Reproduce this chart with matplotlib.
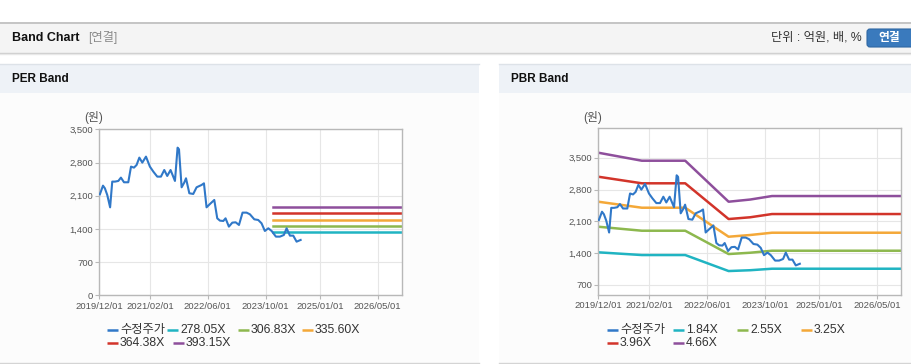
import numpy as np
import matplotlib
matplotlib.use('Agg')
import matplotlib.pyplot as plt
import matplotlib.dates as mdates
from matplotlib.patches import Rectangle, FancyBboxPatch

plt.rcParams['font.family'] = ['Liberation Sans', 'Noto Sans CJK KR']

# adjusted share price (수정주가)
price_dates = ['2019-12-06', '2020-01-01', '2020-01-17', '2020-02-06', '2020-03-01', '2020-03-19',
               '2020-04-11', '2020-05-09', '2020-05-31', '2020-06-26', '2020-08-01', '2020-08-24',
               '2020-09-18', '2020-10-10', '2020-11-02', '2020-11-27', '2020-12-28', '2021-01-30',
               '2021-02-28', '2021-04-02', '2021-05-03', '2021-05-31', '2021-06-25', '2021-07-23',
               '2021-08-29', '2021-09-20', '2021-10-02', '2021-10-24', '2021-11-15', '2021-11-30',
               '2021-12-28', '2022-01-30', '2022-02-27', '2022-04-10', '2022-04-30', '2022-05-22',
               '2022-06-20', '2022-07-26', '2022-08-20', '2022-09-12', '2022-10-10', '2022-10-29',
               '2022-11-26', '2022-12-25', '2023-01-22', '2023-02-19', '2023-03-21', '2023-04-24',
               '2023-05-22', '2023-06-28', '2023-07-31', '2023-08-28', '2023-09-25', '2023-10-24',
               '2023-11-21', '2023-12-27', '2024-01-30', '2024-03-03', '2024-03-26', '2024-04-23',
               '2024-05-21', '2024-06-18', '2024-07-22']
price = [2130, 2312, 2256, 2115, 1855, 2397,
         2397, 2411, 2481, 2383, 2383, 2713,
         2692, 2748, 2903, 2797, 2924, 2713,
         2607, 2502, 2502, 2642, 2516, 2642,
         2411, 3113, 3078, 2277, 2375, 2467,
         2151, 2137, 2277, 2326, 2361, 1855,
         1926, 2010, 1623, 1574, 1567, 1623,
         1448, 1532, 1539, 1483, 1743, 1743,
         1708, 1602, 1588, 1518, 1356, 1413,
         1356, 1237, 1237, 1272, 1413, 1258,
         1258, 1131, 1167]

x_start, x_end = '2019-12-01', '2026-11-20'
tick_dates = ['2019-12-01', '2021-02-01', '2022-06-01', '2023-10-01', '2025-01-01', '2026-05-01']

# PER bands (flat)
per_labels = ['278.05X', '306.83X', '335.60X', '364.38X', '393.15X']
per_dates = ['2023-12-01', x_end]
per_values = [1330, 1462, 1597, 1738, 1870]

# PBR bands
pbr_labels = ['1.84X', '2.55X', '3.25X', '3.96X', '4.66X']
pbr_dates = ['2019-12-01', '2020-12-01', '2021-12-01', '2022-12-01', '2023-06-01', '2023-12-01', x_end]
pbr_values = [
    [1419, 1359, 1359, 1007, 1025, 1058, 1058],
    [1982, 1894, 1894, 1381, 1410, 1454, 1454],
    [2532, 2400, 2400, 1762, 1800, 1850, 1850],
    [3082, 2937, 2937, 2151, 2190, 2261, 2261],
    [3610, 3434, 3434, 2532, 2580, 2657, 2657],
]

price_color = '#3078c8'
band_colors = ['#20b4c2', '#8db84e', '#f4a838', '#d2342a', '#8e4f9c']

W, H = 912, 364
fig = plt.figure(figsize=(W / 100, H / 100), dpi=100)

# background in pixel coords
bg = fig.add_axes([0, 0, 1, 1], zorder=-5)
bg.set_xlim(0, W)
bg.set_ylim(H, 0)
bg.axis('off')
bg.add_patch(Rectangle((0, 22), W, 31, facecolor='#f4f4f4', edgecolor='none'))
bg.plot([0, W], [22.5, 22.5], color='#bcbcbc', lw=1.2)
bg.plot([0, W], [53, 53], color='#cccccc', lw=1.0)
bg.plot([0, W], [54.2, 54.2], color='#e8e8e8', lw=1.0)
for x0, x1 in [(0, 479), (499, W)]:
    bg.add_patch(Rectangle((x0, 64), x1 - x0, 299, facecolor='#fcfcfc', edgecolor='none'))
    bg.add_patch(Rectangle((x0, 64), x1 - x0, 29, facecolor='#eef2f7', edgecolor='none'))
    bg.plot([x0, x1], [64.3, 64.3], color='#dde2e8', lw=1.0)
    bg.plot([x0, x1], [362.8, 362.8], color='#d4d4d4', lw=1.0)

bg.text(12, 38, 'Band Chart', fontsize=9, fontweight='bold', color='#111111', va='center')
bg.text(88, 38, '[연결]', fontsize=8.8, color='#8a8a8a', va='center')
bg.text(862, 38, '단위 : 억원, 배, %', fontsize=8.8, color='#333333', va='center', ha='right')
bg.add_patch(FancyBboxPatch((867, 29), 50, 18, boxstyle='round,pad=0,rounding_size=3',
                            facecolor='#3a7abd', edgecolor='#2f67a3', lw=0.8))
bg.text(889, 38, '연결', fontsize=8.5, fontweight='bold', color='white', va='center', ha='center')
bg.text(12, 79, 'PER Band', fontsize=8.5, fontweight='bold', color='#111111', va='center')
bg.text(511, 79, 'PBR Band', fontsize=8.5, fontweight='bold', color='#111111', va='center')


def px_axes(left, right, top, bottom):
    return fig.add_axes([left / W, 1 - bottom / H, (right - left) / W, (bottom - top) / H])


def style(ax, ylim, yticks):
    ax.set_xlim(np.datetime64(x_start), np.datetime64(x_end))
    ax.set_ylim(*ylim)
    ax.set_xticks([np.datetime64(d) for d in tick_dates])
    ax.xaxis.set_major_formatter(mdates.DateFormatter('%Y/%m/%d'))
    ax.set_yticks(yticks)
    ax.set_yticklabels([f'{v:,}' for v in yticks])
    ax.grid(True, color='#e6e6e6', lw=0.8)
    ax.set_axisbelow(True)
    for s in ax.spines.values():
        s.set_color('#b8b8b8')
        s.set_linewidth(1.0)
    ax.tick_params(axis='both', colors='#b8b8b8', labelcolor='#555555', labelsize=6.8,
                   length=3, width=0.8, pad=1.5)
    ax.set_facecolor('white')


def legend(items, y_rows):
    for label, color, x, row in items:
        y = y_rows[row]
        bg.plot([x, x + 11], [y, y], color=color, lw=1.8, solid_capstyle='butt')
        bg.text(x + 13, y, label, fontsize=8.8, color='#333333', va='center')


pdates = [np.datetime64(d) for d in price_dates]

# PER
ax1 = px_axes(99.3, 401.7, 129.3, 295.3)
for v, c in zip(per_values, band_colors):
    ax1.plot([np.datetime64(d) for d in per_dates], [v, v], color=c, lw=1.8)
ax1.plot(pdates, price, color=price_color, lw=1.5, zorder=5)
style(ax1, (0, 3500), [0, 700, 1400, 2100, 2800, 3500])
bg.text(94, 117, '(원)', fontsize=8.5, color='#555555', va='center', ha='center')
legend([('수정주가', price_color, 107, 0), (per_labels[0], band_colors[0], 167, 0),
        (per_labels[1], band_colors[1], 238, 0), (per_labels[2], band_colors[2], 302, 0),
        (per_labels[3], band_colors[3], 107, 1), (per_labels[4], band_colors[4], 173, 1)],
       [330, 343])

# PBR
ax2 = px_axes(598.3, 901, 128.3, 295)
for vals, c in zip(pbr_values, band_colors):
    ax2.plot([np.datetime64(d) for d in pbr_dates], vals, color=c, lw=1.8)
ax2.plot(pdates, price, color=price_color, lw=1.5, zorder=5)
style(ax2, (480, 4147), [700, 1400, 2100, 2800, 3500])
bg.text(593, 117, '(원)', fontsize=8.5, color='#555555', va='center', ha='center')
legend([('수정주가', price_color, 607, 0), (pbr_labels[0], band_colors[0], 673, 0),
        (pbr_labels[1], band_colors[1], 737, 0), (pbr_labels[2], band_colors[2], 801, 0),
        (pbr_labels[3], band_colors[3], 607, 1), (pbr_labels[4], band_colors[4], 673, 1)],
       [330, 343])

fig.savefig('out.png', dpi=100)
